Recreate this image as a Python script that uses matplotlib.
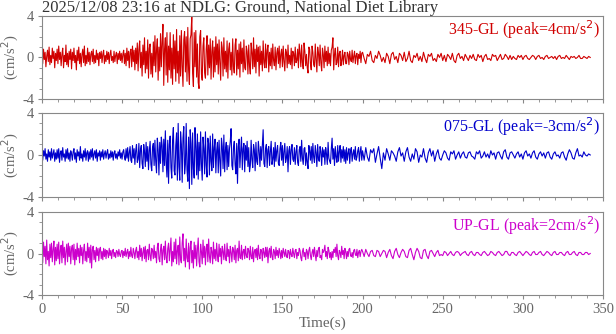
import numpy as np
import matplotlib
matplotlib.use("Agg")
import matplotlib.pyplot as plt
from matplotlib.ticker import MultipleLocator

plt.rcParams['font.family'] = ['Liberation Serif', 'DejaVu Serif']
plt.rcParams['axes.unicode_minus'] = False

# acceleration (cm/s^2):
# first 200 s every 0.5 s, the coda 200-342 s every 1 s
ns_345_early = [
    0.3, -0.6, 0.8, -0.2, 0.5, -0.9, 0.1, 0.7, -0.4, 1.0, -0.7, 0.2, -0.5, 0.9, -0.1, 0.6, -1.0, 0.4, -0.3, 0.8,
    -0.6, 1.1, -0.2, 0.5, -0.8, 0.3, 0.9, -1.0, 0.2, -0.4, 1.2, -0.7, 0.4, -0.9, 0.6, -0.2, 0.8, -1.1, 0.5, -0.3,
    0.9, -0.5, 0.2, -1.2, 0.7, -0.3, 1.0, -0.6, 0.4, -0.9, 0.3, 0.8, -0.5, 1.1, -0.8, 0.2, -0.6, 0.9, -0.4, 0.5,
    -0.7, 0.3, 0.6, -0.4, 0.8, -0.6, 0.2, -0.5, 0.7, -0.2, 0.4, -0.8, 0.5, -0.1, 0.6, -0.5, 0.3, 0.7, -0.6, 0.2,
    -0.4, 0.6, -0.2, 0.5, -0.6, 0.3, 0.7, -0.3, 0.1, -0.5, 0.6, -0.4, 0.2, 0.5, -0.6, 0.4, -0.2, 0.6, -0.3, 0.4,
    -0.5, 0.3, 0.7, -0.6, 0.4, -0.8, 0.9, -0.3, 0.6, -1.0, 0.5, 0.8, -0.9, 1.1, -0.4, 0.7, -1.2, 0.9, -0.6, 1.4,
    -1.3, 0.8, 1.6, -1.0, 0.5, -1.8, 1.2, -0.7, 1.9, -1.5, 0.6, -1.1, 1.7, -2.0, 0.9, 1.3, -1.6, 0.4, -1.9, 1.5,
    -0.8, 2.1, -1.4, 0.7, 1.8, -2.2, 1.0, -1.3, 2.3, -0.9, 1.5, 3.2, -2.7, 0.8, 1.9, -1.7, 2.4, -2.4, 1.1, -1.2,
    2.4, -2.0, 0.9, -2.6, 2.2, -1.1, 1.6, -2.3, 2.7, -1.5, 0.6, -2.5, 2.1, -1.8, 2.6, -0.8, -2.8, 1.7, 2.5, -1.4,
    2.0, -2.3, 2.9, -1.2, -2.6, 1.8, 2.2, 4.0, -1.5, -2.8, 2.4, -0.9, 2.6, -1.9, 1.3, -2.4, -3.0, 2.0, 2.6, -1.6,
    -2.2, 1.1, 1.9, -1.5, -2.0, 0.8, 2.1, -1.7, 1.2, -1.0, 1.8, -2.1, 0.6, 1.6, -1.9, 1.0, -1.4, 2.0, -0.7, 1.3,
    -1.6, 1.7, -0.5, -2.2, 1.5, 0.9, -1.8, 1.9, -1.1, 0.6, -1.4, 1.6, -2.0, 0.8, 1.4, -1.2, 0.5, -1.7, 1.8, -0.9,
    -1.5, 1.2, 1.8, -1.7, 0.7, -1.1, 1.3, -1.9, 1.5, -0.6, 0.9, -1.4, 1.7, -1.0, -1.2, 1.1, 0.6, -1.6, 1.2, -0.8,
    -1.6, 1.4, 0.5, -1.1, 1.9, -0.9, 0.8, -1.5, 1.2, -0.4, 1.0, -1.8, 1.1, -0.7, 0.6, -1.3, 1.6, -0.5, -1.0, 1.3,
    -1.0, 0.7, 1.2, -1.4, 0.5, -0.8, 0.9, -1.1, 1.3, -0.3, -0.8, 1.0, -1.2, 0.4, 0.9, -0.6, 1.1, -1.0, 0.3, 0.8,
    -0.9, 1.1, -0.4, -1.3, 0.8, 0.5, -1.0, 1.2, -0.6, 0.2, -0.7, 0.9, -1.1, 0.6, 0.4, -0.8, 1.0, -0.5, -0.3, 0.8,
    -1.0, 1.3, 0.4, -0.9, 1.2, -0.5, -1.1, 1.4, 0.6, -0.8, 0.3, -1.0, -1.5, 1.0, 0.8, -0.6, -1.2, 1.1, 0.5, -0.7,
    -0.9, 1.3, -0.2, -1.4, 1.0, 0.4, -0.8, 1.2, -0.5, -1.3, 0.9, 0.3, -1.0, 1.1, -0.4, 0.6, -0.8, 1.0, -0.6, 0.4,
    -0.8, 0.7, 1.0, 1.9, -1.2, 0.3, 0.9, -0.7, -0.5, 1.0, -0.9, 0.4, 0.6, -0.8, -0.3, 0.7, -0.7, 0.2, 0.5, -0.6,
    -0.6, 0.5, 0.3, -0.7, 0.6, -0.2, -0.4, 0.7, -0.5, 0.1, 0.6, -0.6, 0.2, 0.4, -0.7, 0.3, -0.1, 0.6, -0.5, 0.4,
]
ns_345_coda = [
    0.5, -0.1, -0.6, 0.3, 0.1, 0.6, -0.3, -0.5, 0.2, -0.1,
    0.6, 0.2, -0.4, 0.0, -0.5, 0.4, 0.1, -0.6, 0.3, 0.5,
    -0.2, 0.1, -0.5, 0.4, 0.2, -0.3, 0.5, -0.4, -0.1, 0.6,
    -0.3, -0.5, 0.2, 0.0, 0.4, -0.3, 0.1, -0.4, 0.5, -0.1,
    -0.5, 0.3, 0.1, 0.4, -0.3, -0.1, -0.4, 0.3, 0.0, 0.4,
    -0.3, 0.2, -0.4, 0.3, 0.1, -0.2, 0.4, -0.3, -0.5, 0.2,
    0.4, -0.1, 0.1, -0.3, 0.3, 0.0, -0.3, 0.2, -0.1, 0.3,
    -0.2, -0.3, 0.3, 0.0, 0.2, -0.4, 0.1, 0.3, -0.2, -0.1,
    -0.3, 0.3, 0.1, 0.2, -0.3, 0.0, 0.3, -0.2, -0.1, 0.3,
    0.1, -0.2, 0.2, -0.2, 0.1, -0.1, -0.2, 0.2, 0.0, 0.2,
    -0.2, 0.1, 0.2, -0.1, -0.2, 0.0, 0.2, 0.1, -0.2, 0.1,
    0.2, -0.1, 0.0, -0.2, 0.1, 0.2, -0.1, 0.0, 0.1, -0.1,
    0.1, -0.2, 0.1, 0.2, -0.1, 0.0, -0.1, 0.2, 0.0, -0.2,
    0.1, 0.0, 0.1, -0.1, 0.0, 0.2, -0.1, -0.1, 0.1, 0.0,
    -0.1, 0.1, 0.0,
]

ew_075_early = [
    0.2, -0.5, 0.4, -0.1, 0.6, -0.4, 0.1, -0.6, 0.5, -0.2, 0.3, -0.5, 0.6, -0.3, 0.1, 0.5, -0.6, 0.2, -0.4, 0.5,
    -0.3, 0.6, -0.7, 0.2, 0.4, -0.5, 0.7, -0.2, 0.1, -0.6, 0.5, -0.3, 0.6, -0.4, 0.2, -0.6, 0.4, 0.1, -0.5, 0.3,
    0.6, -0.4, 0.2, -0.7, 0.5, -0.1, 0.3, -0.5, 0.8, -0.3, 0.1, -0.6, 0.4, -0.2, 0.6, -0.5, 0.2, 0.4, -0.6, 0.3,
    -0.4, 0.5, -0.2, 0.6, -0.5, 0.1, 0.4, -0.3, 0.5, -0.6, 0.2, -0.1, 0.4, -0.5, 0.3, -0.2, 0.5, -0.4, 0.1, 0.4,
    -0.3, 0.2, 0.5, -0.4, 0.1, -0.3, 0.4, -0.2, 0.3, -0.5, 0.2, 0.4, -0.3, 0.1, -0.4, 0.3, -0.1, 0.5, -0.3, 0.2,
    -0.4, 0.3, 0.5, -0.2, -0.5, 0.6, -0.3, 0.7, -0.6, 0.2, 0.8, -0.5, -0.7, 0.9, -0.3, 0.6, -0.9, 0.4, 1.0, -0.7,
    -0.4, 1.1, -1.2, 0.5, 0.9, -0.8, -1.3, 1.0, 0.3, -1.1, 1.2, -0.6, 0.8, -1.4, 0.4, 1.3, -0.9, -1.5, 0.7, 1.1,
    -1.0, 1.4, -0.6, -1.7, 1.6, 0.5, -1.9, 1.2, -0.8, 1.7, 0.9, -1.6, 1.5, -1.0, 2.3, -0.7, -2.1, 1.4, -2.7, 1.0,
    1.8, -1.2, -2.2, 1.4, 2.6, -1.5, -1.9, 0.9, 2.1, -2.4, 3.0, -1.1, -2.4, 2.2, 1.0, -2.6, 1.6, 2.7, -1.8, -0.9,
    3.0, -1.4, -2.5, 1.7, -3.2, 2.4, 1.1, -2.8, 2.1, -1.3, -2.2, 2.6, 0.8, -1.9, 2.0, -2.3, 1.2, -1.5, 2.2, -0.8,
    -2.4, 1.7, 0.6, -1.8, 2.2, -1.0, -2.1, 1.6, 1.1, -1.9, 1.8, -0.6, -1.5, 2.0, -1.2, 0.7, 1.5, -1.7, 0.4, 1.2,
    -1.7, 1.4, -0.5, -2.0, 1.6, 0.8, -1.3, 1.9, -1.6, 0.5, 1.2, -1.4, 0.9, -1.1, 0.6, 1.3, 2.5, -1.0, -1.4, 0.7,
    1.3, -0.9, -1.8, 1.1, -2.7, 0.8, 1.5, -1.2, 0.4, 1.7, -1.4, 0.6, 1.1, -1.6, 0.9, -0.5, 1.3, -1.1, 0.7, -1.6,
    -1.0, 1.4, -0.4, -1.2, 1.0, 0.5, -1.5, 1.2, -0.6, -0.9, 1.3, 0.4, -1.1, 0.8, -0.5, 1.0, 2.4, -0.8, -1.1, 0.6,
    1.0, -1.2, 0.5, 0.8, -1.0, 0.3, 1.3, -0.9, -0.4, 0.7, -1.1, 1.2, -0.6, 0.4, 0.9, -0.8, -1.0, 0.6, 1.2, -0.5,
    0.9, -1.0, 0.3, 1.1, -0.7, -0.3, 0.8, -1.6, 0.4, 0.8, -0.9, 0.5, 1.0, -0.4, -0.6, 0.7, -0.9, 0.3, 0.9, -0.7,
    -1.0, 0.5, 0.8, -0.6, 1.4, -0.3, -0.9, 0.6, 0.7, -1.0, 0.2, -0.7, -1.3, 0.9, 0.4, -0.5, 0.8, -0.8, 1.1, -0.2,
    -0.7, 0.9, 0.2, -1.1, 1.0, -0.4, -0.6, 0.8, 0.3, -1.0, 0.7, -0.2, 0.5, -0.9, 0.7, 0.1, -0.9, 1.2, -0.3, -0.6,
    -0.8, 0.6, 1.6, -0.4, 0.6, -1.0, 0.8, -0.2, -0.7, 0.9, -0.6, 0.3, 0.9, -0.7, 0.5, -0.3, 0.8, -0.6, 0.5, -0.8,
    0.7, -0.5, 0.2, 0.6, -0.8, 0.4, 0.7, -0.6, 0.1, 0.5, -0.4, 0.8, -0.5, -0.2, 0.4, 0.7, -0.6, 0.3, 0.8, -0.5,
]
ew_075_coda = [
    0.4, -0.5, 0.7, -0.2, -0.6, 0.5, 0.2, 0.6, -0.7, 0.1,
    0.8, -0.3, -1.3, 0.2, -0.5, 0.6, 0.1, -0.5, 0.4, 0.2,
    -0.1, -0.6, 0.3, 0.7, -0.1, 0.2, -0.6, 0.3, 0.7, -0.2,
    -0.6, 0.1, -0.4, 0.6, 0.3, -0.7, 0.0, -0.2, 0.6, -0.3,
    -0.7, 0.2, 0.6, -0.1, 0.4, -0.6, 0.1, 0.5, -0.3, -0.5,
    0.0, 0.4, 0.2, -0.3, -0.5, 0.3, 0.1, 0.4, -0.4, 0.0,
    0.3, -0.3, 0.1, 0.3, -0.2, -0.3, 0.2, 0.3, -0.1, -0.2,
    -0.4, 0.3, 0.1, 0.4, -0.3, -0.1, 0.3, -0.2, 0.1, -0.3,
    0.4, 0.0, 0.2, -0.4, 0.2, 0.3, -0.1, -0.4, 0.3, 0.5,
    -0.2, -0.4, 0.2, 0.3, 0.0, -0.3, 0.1, 0.3, -0.2, 0.1,
    -0.4, 0.2, 0.4, -0.1, 0.1, -0.3, 0.2, 0.4, -0.2, -0.4,
    0.1, 0.3, -0.1, 0.2, -0.3, 0.2, 0.3, -0.2, -0.4, 0.1,
    0.3, -0.1, 0.0, -0.3, 0.2, 0.3, -0.2, -0.5, 0.1, 0.5,
    0.2, -0.3, -0.4, 0.2, 0.6, -0.1, 0.0, -0.2, 0.3, 0.0,
    -0.1, 0.1, 0.0,
]

ud_early = [
    0.5, -0.9, 1.1, -0.3, 0.7, -1.0, 1.3, -0.6, 0.2, -1.2, 0.9, -0.4, 1.0, -0.8, 0.4, 1.2, -1.1, 0.6, -0.7, 0.9,
    -0.5, 1.1, -1.0, 0.3, 0.8, -0.9, 1.2, -0.4, 0.6, -1.1, 0.2, 0.9, -0.8, 1.0, -0.3, 0.7, -1.0, 0.5, 0.8, -0.6,
    0.9, -1.1, 0.4, -0.6, 1.0, -0.3, 0.5, -0.9, 0.8, -0.2, 0.6, -1.0, 0.3, 0.9, -0.7, 0.2, -0.8, 1.0, -0.4, 0.6,
    -0.9, 0.8, -1.4, 0.4, 0.7, -0.6, 0.3, -0.8, 0.6, -0.2, 0.5, -0.7, 0.4, 0.6, -0.5, 0.2, -0.6, 0.5, -0.3, 0.4,
    -0.5, 0.3, 0.1, -0.4, 0.5, -0.2, 0.3, -0.5, 0.2, 0.4, -0.3, 0.1, -0.4, 0.3, 0.2, -0.3, 0.4, -0.1, -0.3, 0.2,
    0.3, -0.4, 0.2, -0.2, 0.5, -0.3, 0.1, 0.4, -0.5, 0.2, -0.3, 0.6, -0.2, -0.4, 0.5, 0.1, -0.5, 0.3, 0.6, -0.4,
    0.2, -0.6, 0.8, -0.3, 0.5, -0.7, 0.1, 0.6, -0.5, 0.7, -0.8, 0.3, 0.4, -0.6, 0.9, -0.2, -0.7, 0.5, 0.3, -0.5,
    0.8, -0.4, 0.2, -0.9, 0.6, 1.0, -0.5, -0.8, 0.4, 0.9, -1.1, 0.3, 0.7, -0.6, 1.2, -0.4, -0.9, 0.5, 1.0, -0.7,
    0.4, 1.5, -1.2, 0.2, -0.8, 1.1, -0.5, 1.4, -1.0, 0.3, 0.8, -1.1, 1.6, -0.6, -0.9, 1.0, 1.9, -0.7, 0.5, -1.3,
    1.4, -0.4, -0.8, 1.0, -1.5, 0.6, 1.2, -0.9, 0.3, -1.4, 1.1, -0.5, 0.8, -1.2, 0.4, 1.5, -0.8, -1.3, 0.9, 0.2,
    -1.0, 1.3, -0.4, 0.7, -1.1, 0.5, 0.9, -0.8, 1.4, -0.3, -0.9, 0.6, 0.2, -1.0, 1.1, -0.5, 0.4, -0.7, 1.0, -0.2,
    -0.8, 0.9, -0.3, 0.5, -1.0, 0.7, 0.2, -0.6, 0.9, -0.4, -0.7, 1.0, -0.3, 0.4, -0.9, 0.7, 0.1, -0.8, 0.6, 0.3,
    -0.6, 0.8, -0.9, 0.3, 0.5, -0.7, 1.2, -0.4, -0.5, 0.8, -0.6, 0.2, 0.4, -0.5, 0.7, -0.2, -0.4, 0.5, 0.3, -0.6,
    0.7, -0.3, -0.5, 0.6, -0.8, 0.2, 0.4, -0.4, 0.5, -0.6, 0.8, -0.2, -0.5, 0.4, 0.3, -0.7, 0.5, 0.1, -0.4, 0.6,
    -0.3, 0.6, -0.9, 0.2, 0.5, -0.4, 0.7, -0.3, -0.6, 0.4, 0.2, -0.5, 0.6, -0.2, 0.3, -0.4, 0.5, 0.1, -0.5, 0.3,
    -0.4, 0.5, 0.1, -0.3, 0.4, -0.2, -0.4, 0.3, 0.2, -0.5, 0.4, -0.1, -0.3, 0.5, 0.0, -0.4, 0.3, 0.4, -0.5, 0.1,
    -0.2, 0.5, 0.3, -0.4, -0.7, 0.2, 0.5, -0.3, 0.1, -0.6, 0.4, 0.2, -0.5, 0.3, 0.6, -0.2, -0.6, 0.1, 0.4, -0.3,
    0.6, -0.1, -0.7, 0.3, -0.3, 0.5, 0.6, -0.4, -0.2, -0.6, 0.4, 0.1, 0.3, 0.8, -0.3, 0.2, -0.5, 0.6, 0.3, -0.4,
    0.1, -0.6, 0.2, -0.4, 0.4, 0.1, 0.6, -0.3, 0.9, -0.2, -0.6, 0.3, 0.1, -0.4, 0.7, -0.1, 0.3, -0.5, 0.5, 0.2,
    -0.5, 0.2, -0.3, 0.4, 0.5, -0.2, -0.3, 0.1, -0.4, 0.3, 0.4, -0.1, -0.2, 0.4, -0.4, 0.1, 0.3, -0.3, 0.2, 0.4,
]
ud_coda = [
    0.2, -0.3, 0.4, 0.0, -0.3, 0.2, 0.3, -0.2, -0.3, 0.3,
    0.2, -0.3, 0.0, 0.3, 0.2, -0.4, 0.1, 0.4, -0.2, -0.5,
    0.2, 0.5, -0.1, -0.4, 0.1, 0.4, 0.2, -0.3, -0.4, 0.3,
    0.5, -0.1, -0.6, 0.1, 0.5, 0.2, -0.4, -0.5, 0.3, 0.4,
    -0.2, -0.5, 0.2, 0.3, 0.0, -0.3, 0.1, 0.3, -0.2, -0.1,
    -0.2, 0.2, 0.1, -0.2, 0.0, 0.2, -0.1, -0.2, 0.1, 0.2,
    0.1, -0.2, 0.0, 0.1, 0.2, -0.1, -0.2, 0.1, 0.2, -0.1,
    -0.2, 0.1, 0.1, -0.1, -0.2, 0.1, 0.2, 0.0, -0.2, -0.1,
    0.2, 0.1, -0.1, -0.2, 0.1, 0.2, 0.0, -0.2, -0.1, 0.2,
    0.2, -0.1, -0.2, 0.1, 0.1, -0.1, -0.2, 0.1, 0.2, 0.0,
    -0.2, 0.0, 0.2, 0.1, -0.1, -0.2, 0.1, 0.2, -0.1, -0.1,
    0.1, 0.2, -0.1, -0.2, 0.0, 0.2, 0.1, -0.1, -0.2, 0.1,
    0.2, -0.1, -0.1, 0.1, 0.1, -0.1, -0.2, 0.1, 0.2, -0.1,
    -0.1, 0.1, 0.2, -0.1, -0.2, 0.1, 0.1, -0.1, -0.1, 0.1,
    0.1, -0.1, 0.0,
]

traces = [(ns_345_early, ns_345_coda), (ew_075_early, ew_075_coda), (ud_early, ud_coda)]
labels = ["345-GL (peak=4cm/s$^2$)", "075-GL (peak=-3cm/s$^2$)", "UP-GL (peak=2cm/s$^2$)"]
colors = ["#d00000", "#0000cc", "#cc00cc"]
title = "2025/12/08 23:16 at NDLG: Ground, National Diet Library"

gray = "#888888"
txtgray = "#666666"
fig = plt.figure(figsize=(6.16, 3.34), dpi=100)
boxes = [(0.704, 0.952), (0.410, 0.662), (0.117, 0.365)]

for k, ((early, coda), lab, col) in enumerate(zip(traces, labels, colors)):
    bot, top = boxes[k]
    ax = fig.add_axes([0.068, bot, 0.911, top - bot])
    t = np.concatenate([np.arange(len(early)) * 0.5, 200 + np.arange(len(coda))])
    ax.plot(t, early + coda, color=col, lw=0.8)
    ax.set_xlim(0, 350)
    ax.set_ylim(-4, 4)
    ax.set_yticks([-4, 0, 4])
    ax.yaxis.set_minor_locator(MultipleLocator(1))
    ax.xaxis.set_major_locator(MultipleLocator(50))
    ax.xaxis.set_minor_locator(MultipleLocator(10))
    ax.tick_params(which="both", direction="out", colors=gray, labelcolor=txtgray,
                   labelsize=10.5, top=False, right=False, pad=2.5)
    ax.tick_params(which="major", length=3)
    ax.tick_params(which="minor", length=2)
    for s in ax.spines.values():
        s.set_color(gray)
    ax.set_ylabel("(cm/s$^2$)", color=txtgray, fontsize=10.5, labelpad=1)
    ax.text(0.995, 0.975, lab, transform=ax.transAxes, ha="right", va="top",
            color=col, fontsize=11.5)
    if k < 2:
        ax.set_xticklabels([])
    else:
        ax.set_xlabel("Time(s)", color=txtgray, fontsize=11, labelpad=1)
    if k == 0:
        ax.set_title(title, loc="left", fontsize=12, color="#333333", pad=2)

fig.savefig("out.png", dpi=100)
